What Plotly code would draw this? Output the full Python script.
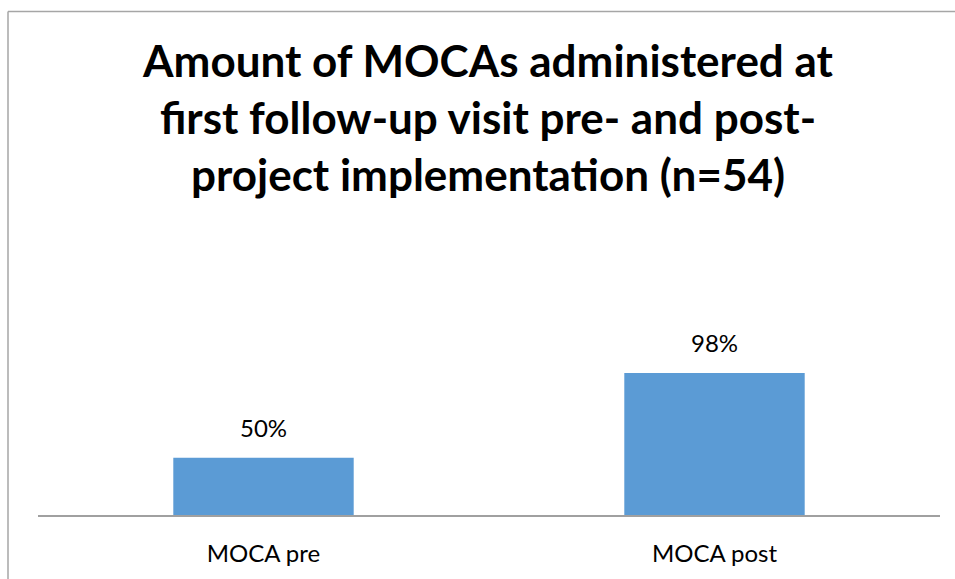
import plotly.graph_objects as go

categories = ["MOCA pre", "MOCA post"]
values = [0.50, 0.98]
value_labels = ["50%", "98%"]
title_text = "Amount of MOCAs administered at<br>first follow-up visit pre- and post-<br>project implementation (n=54)"

W, H = 955, 579
ML, MR, MT, MB = 38, 15, 200, 58
plot_h = H - MT - MB
px_per_unit = 180.0
y_min = 0.176
y_max = y_min + plot_h / px_per_unit

fig = go.Figure()
fig.add_trace(go.Bar(
    x=categories, y=values, width=0.4,
    marker=dict(color="#5B9BD5", line=dict(width=0)),
    hoverinfo="skip",
))

for c, v, t in zip(categories, values, value_labels):
    fig.add_annotation(x=c, y=v, text=t, showarrow=False, yanchor="middle",
                       yshift=30, font=dict(family="Lato, sans-serif", size=24, color="#000000"))

# chart frame (cropped border of the original)
def px_x(p):
    return (p - ML) / (W - ML - MR)

def px_y(p):
    return (H - MB - p) / plot_h

border = "#a6a6a6"
fig.add_shape(type="line", xref="paper", yref="paper", x0=px_x(8), x1=px_x(960), y0=px_y(8), y1=px_y(8),
              line=dict(color=border, width=1.5))
fig.add_shape(type="line", xref="paper", yref="paper", x0=px_x(8), x1=px_x(8), y0=px_y(8), y1=px_y(590),
              line=dict(color=border, width=1.5))

fig.update_layout(
    width=W, height=H,
    margin=dict(l=ML, r=MR, t=MT, b=MB),
    paper_bgcolor="white", plot_bgcolor="white",
    showlegend=False,
    title=dict(text=title_text, x=0.511, xanchor="center", y=1 - 77 / H, yanchor="middle",
               font=dict(family="Lato, sans-serif", size=44, color="#000000", weight="bold")),
    xaxis=dict(showline=True, linecolor="#a0a0a0", linewidth=1.5, ticks="", showgrid=False,
               tickfont=dict(family="Lato, sans-serif", size=24, color="#000000"),
               ticklabelstandoff=16, range=[-0.5, 1.5]),
    yaxis=dict(visible=False, range=[y_min, y_max], showgrid=False, zeroline=False),
)

fig.write_html("out.html", config={"displayModeBar": False},
               post_script="document.body.style.margin='0';document.body.style.overflow='hidden';")
